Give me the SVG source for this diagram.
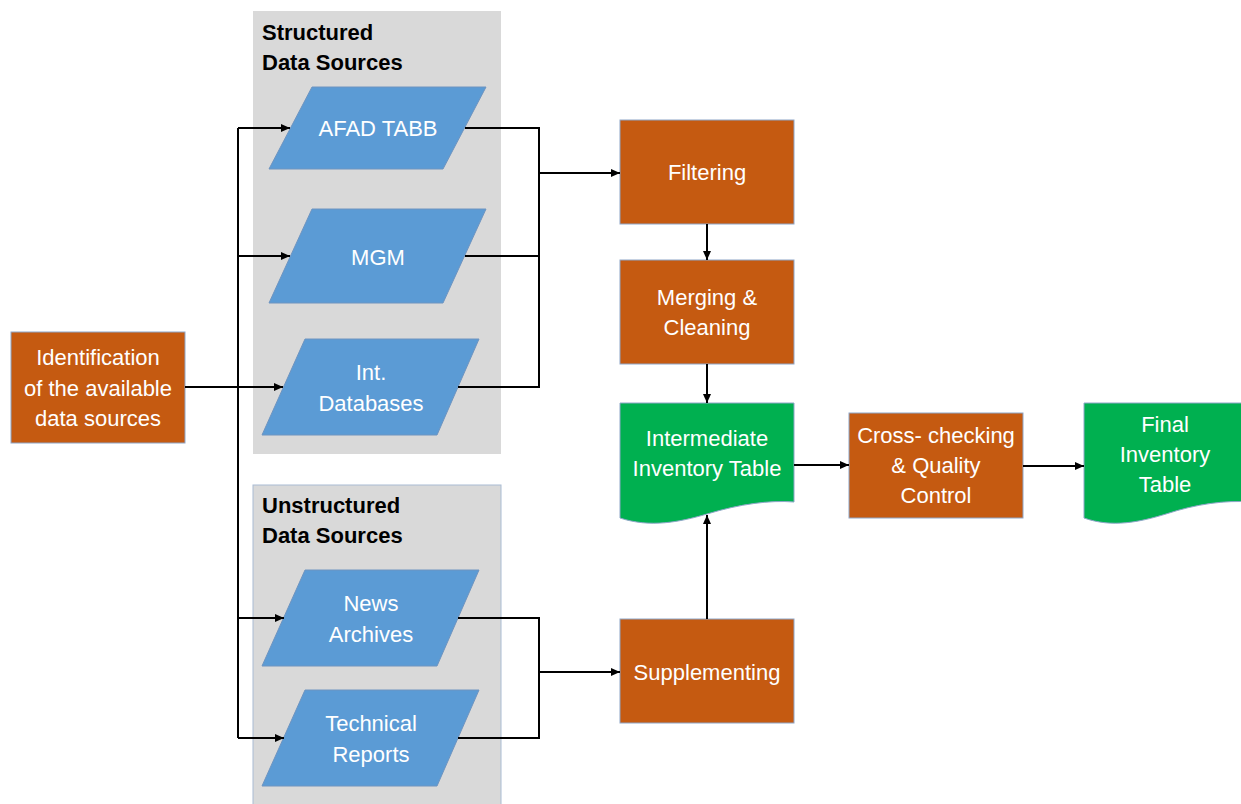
<svg xmlns="http://www.w3.org/2000/svg" width="1241" height="804" viewBox="0 0 1241 804">
<style>
.grp{fill:#D9D9D9}
.ttl{font-family:"Liberation Sans",Arial,sans-serif;font-weight:bold;font-size:22px;fill:#000}
.par{fill:#5B9BD5;stroke:#6E94C0;stroke-width:1}
.proc{fill:#C55A11;stroke:#8EA6C8;stroke-width:1}
.doc{fill:#00B050;stroke:#8EA6C8;stroke-width:1}
.lbl{font-family:"Liberation Sans",Arial,sans-serif;font-size:22px;fill:#fff;text-anchor:middle}
.con path{fill:none;stroke:#000;stroke-width:2}
</style>
<defs>
<marker id="ah" markerWidth="9" markerHeight="8" refX="9" refY="4" orient="auto" markerUnits="userSpaceOnUse">
<path d="M0,0 L9,4 L0,8 Z" fill="#000"/>
</marker>
</defs>
<rect width="1241" height="804" fill="#fff"/>

<g id="structured-group">
<rect class="grp" x="253" y="11" width="248" height="443"/>
<text class="ttl" x="262" y="40">Structured</text>
<text class="ttl" x="262" y="70">Data Sources</text>
</g>
<g id="unstructured-group">
<rect class="grp" x="253" y="485" width="248" height="330" stroke="#A9BCD3" stroke-width="1"/>
<text class="ttl" x="262" y="513">Unstructured</text>
<text class="ttl" x="262" y="543">Data Sources</text>
</g>

<g id="identification">
<rect class="proc" x="11" y="332" width="174" height="111"/>
<text class="lbl" x="98" y="365">Identification</text>
<text class="lbl" x="98" y="396">of the available</text>
<text class="lbl" x="98" y="426">data sources</text>
</g>

<g id="afad">
<polygon class="par" points="312,87 486,87 443,169 269,169"/>
<text class="lbl" x="378" y="136">AFAD TABB</text>
</g>
<g id="mgm">
<polygon class="par" points="312,209 486,209 443,303 269,303"/>
<text class="lbl" x="378" y="265">MGM</text>
</g>
<g id="intdb">
<polygon class="par" points="305,339 479,339 437,435 262,435"/>
<text class="lbl" x="371" y="380">Int.</text>
<text class="lbl" x="371" y="411">Databases</text>
</g>
<g id="news">
<polygon class="par" points="305,570 479,570 437,666 262,666"/>
<text class="lbl" x="371" y="611">News</text>
<text class="lbl" x="371" y="642">Archives</text>
</g>
<g id="technical">
<polygon class="par" points="305,690 479,690 437,786 262,786"/>
<text class="lbl" x="371" y="731">Technical</text>
<text class="lbl" x="371" y="762">Reports</text>
</g>

<g id="filtering">
<rect class="proc" x="620" y="120" width="174" height="104"/>
<text class="lbl" x="707" y="180">Filtering</text>
</g>
<g id="merging">
<rect class="proc" x="620" y="260" width="174" height="104"/>
<text class="lbl" x="707" y="305">Merging &amp;</text>
<text class="lbl" x="707" y="335">Cleaning</text>
</g>
<g id="intermediate">
<path class="doc" d="M620,403 L794,403 L794,502 C770,500 740,504 707,514 C680,522 650,528 620,518 Z"/>
<text class="lbl" x="707" y="446">Intermediate</text>
<text class="lbl" x="707" y="476">Inventory Table</text>
</g>
<g id="supplementing">
<rect class="proc" x="620" y="619" width="174" height="104"/>
<text class="lbl" x="707" y="680">Supplementing</text>
</g>
<g id="crosscheck">
<rect class="proc" x="849" y="413" width="174" height="105"/>
<text class="lbl" x="936" y="443">Cross- checking</text>
<text class="lbl" x="936" y="473">&amp; Quality</text>
<text class="lbl" x="936" y="503">Control</text>
</g>
<g id="final">
<path class="doc" d="M1084,403 L1250,403 L1250,502 C1226,500 1196,504 1166,514 C1140,522 1112,528 1084,518 Z"/>
<text class="lbl" x="1165" y="432">Final</text>
<text class="lbl" x="1165" y="462">Inventory</text>
<text class="lbl" x="1165" y="492">Table</text>
</g>

<g id="connectors" class="con">
<path d="M185,387 H283" marker-end="url(#ah)"/>
<path d="M238,128 V738"/>
<path d="M238,128 H290" marker-end="url(#ah)"/>
<path d="M238,256 H290" marker-end="url(#ah)"/>
<path d="M238,618 H284" marker-end="url(#ah)"/>
<path d="M238,738 H284" marker-end="url(#ah)"/>
<path d="M465,128 H539 V387 H458"/>
<path d="M465,256 H539"/>
<path d="M539,173 H620" marker-end="url(#ah)"/>
<path d="M458,618 H539 V738 H458"/>
<path d="M539,672 H620" marker-end="url(#ah)"/>
<path d="M707,224 V260" marker-end="url(#ah)"/>
<path d="M707,364 V403" marker-end="url(#ah)"/>
<path d="M707,619 V515" marker-end="url(#ah)"/>
<path d="M794,465 H849" marker-end="url(#ah)"/>
<path d="M1023,466 H1084" marker-end="url(#ah)"/>
</g>
</svg>
